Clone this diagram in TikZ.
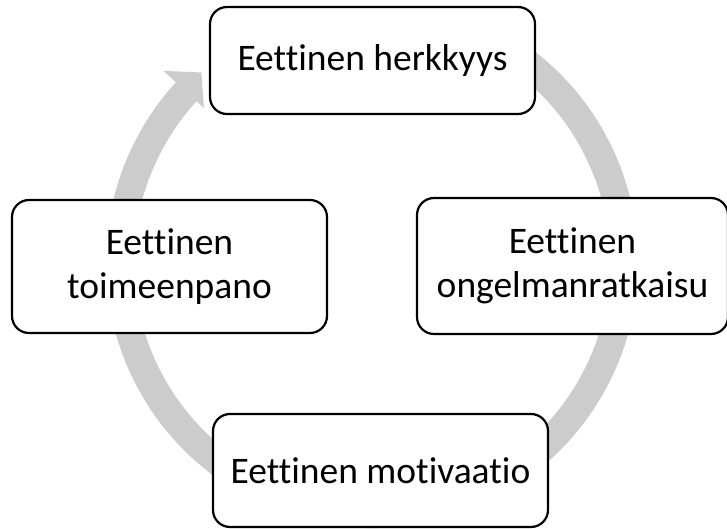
\documentclass[tikz,border=0pt]{standalone}
\usepackage{fontspec}
\setmainfont{Carlito}[Ligatures=NoCommon]
\definecolor{arcgray}{RGB}{204,204,204}
\begin{document}
\begin{tikzpicture}[x=1pt,y=1pt,
  box/.style={draw=black, line width=2.2pt, fill=white, rounded corners=17pt,
    align=center, inner sep=0pt, font=\fontsize{37.5}{44}\selectfont},
  cyclearc/.style={draw=arcgray, line width=28pt}]
\useasboundingbox (0,0) rectangle (727,528);
\coordinate (c) at (372,266);
% cycle arc
\draw[cyclearc] ([shift={(65:252)}]c) arc[start angle=65, end angle=-222.5, radius=252];
\fill[arcgray] ([shift={(137.5:228)}]c) -- ([shift={(137.5:283)}]c) -- ([shift={(132:255)}]c) -- cycle;
% boxes
\node[box, minimum width=325pt, minimum height=107pt] (top) at (372.5,467.5) {Eettinen herkkyys};
\node[box, minimum width=311pt, minimum height=136pt] (right) at (572.5,262) {Eettinen\\ongelmanratkaisu};
\node[box, minimum width=335pt, minimum height=113pt] (bottom) at (380.5,57.5) {Eettinen motivaatio};
\node[box, minimum width=315pt, minimum height=133pt] (left) at (169.5,261.5) {Eettinen\\toimeenpano};
\end{tikzpicture}
\end{document}
